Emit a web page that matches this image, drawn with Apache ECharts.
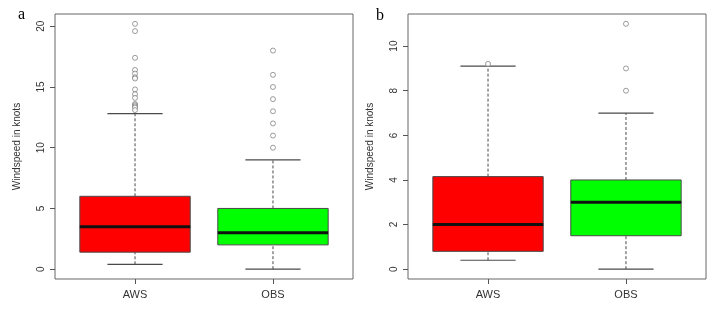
<!DOCTYPE html>
<html>
<head>
<meta charset="utf-8">
<script src="https://cdn.jsdelivr.net/npm/echarts@6/dist/echarts.min.js"></script>
<style>html,body{margin:0;padding:0;background:#fff;}#c{width:717px;height:309px;}</style>
</head>
<body>
<div id="c"></div>
<script>
// Categories
const categories = ['AWS', 'OBS'];
// Panel a: [lowWhisker, Q1, median, Q3, highWhisker]
const statsA = [[0.4, 1.4, 3.5, 6.0, 12.8], [0, 2, 3, 5, 9]];
const outliersAWS_A = [20.2, 19.6, 17.4, 16.4, 16.1, 15.8, 15.7, 14.8, 14.4, 14.1, 13.6, 13.5, 13.4, 13.3, 13.1];
const outliersOBS_A = [18, 16, 15, 14, 13, 12, 11, 10];
// Panel b
const statsB = [[0.4, 0.8, 2.0, 4.15, 9.1], [0, 1.5, 3, 4, 7]];
const outliersAWS_B = [9.2];
const outliersOBS_B = [11, 9, 8];
// Tick labels
const ticksA = [0, 5, 10, 15, 20];
const ticksB = [0, 2, 4, 6, 8, 10];
const yTitle = 'Windspeed in knots';
const boxColors = ['#ff0000', '#00ff00'];

const chart = echarts.init(document.getElementById('c'), null, {renderer: 'canvas'});

function boxRender(params, api) {
  const x = api.value(0);
  const lo = api.value(1), q1 = api.value(2), med = api.value(3), q3 = api.value(4), hi = api.value(5);
  const idx = api.value(6);
  const halfBox = api.size([0.4, 0])[0];
  const halfCap = api.size([0.2, 0])[0];
  const pLo = api.coord([x, lo]), pQ1 = api.coord([x, q1]), pMed = api.coord([x, med]);
  const pQ3 = api.coord([x, q3]), pHi = api.coord([x, hi]);
  const cx = pLo[0];
  const stroke = '#4a4a4a';
  return {
    type: 'group',
    children: [
      {type: 'line', shape: {x1: cx, y1: pQ3[1], x2: cx, y2: pHi[1]}, style: {stroke: stroke, lineWidth: 1, lineDash: [3, 2]}},
      {type: 'line', shape: {x1: cx, y1: pLo[1], x2: cx, y2: pQ1[1]}, style: {stroke: stroke, lineWidth: 1, lineDash: [3, 2]}},
      {type: 'line', shape: {x1: cx - halfCap, y1: pHi[1], x2: cx + halfCap, y2: pHi[1]}, style: {stroke: stroke, lineWidth: 1.2}},
      {type: 'line', shape: {x1: cx - halfCap, y1: pLo[1], x2: cx + halfCap, y2: pLo[1]}, style: {stroke: stroke, lineWidth: 1.2}},
      {type: 'rect', shape: {x: cx - halfBox, y: pQ3[1], width: 2 * halfBox, height: pQ1[1] - pQ3[1]}, style: {fill: boxColors[idx], stroke: stroke, lineWidth: 1}},
      {type: 'line', shape: {x1: cx - halfBox, y1: pMed[1], x2: cx + halfBox, y2: pMed[1]}, style: {stroke: '#111', lineWidth: 3}}
    ]
  };
}

function boxData(stats) {
  return stats.map((s, i) => [i + 1, s[0], s[1], s[2], s[3], s[4], i]);
}
function outData(xs, vals) { return vals.map(v => [xs, v]); }

function xAxisCfg(gi) {
  return {
    type: 'value', gridIndex: gi, min: 0.42, max: 2.58, position: 'bottom',
    splitLine: {show: false}, axisLine: {show: false, onZero: false},
    axisTick: {show: true, inside: false, length: 5, customValues: [1, 2], lineStyle: {color: '#555'}},
    axisLabel: {show: true, customValues: [1, 2], margin: 10, fontSize: 11, color: '#333', fontFamily: 'Liberation Sans',
      formatter: v => categories[Math.round(v) - 1] || ''}
  };
}
function yAxisCfg(gi, min, max, ticks) {
  return {
    type: 'value', gridIndex: gi, min: min, max: max, position: 'left',
    splitLine: {show: false}, axisLine: {show: false, onZero: false},
    axisTick: {show: true, inside: false, length: 5, customValues: ticks, lineStyle: {color: '#555'}},
    axisLabel: {show: true, customValues: ticks, rotate: 90, margin: 9, fontSize: 10, color: '#333', fontFamily: 'Liberation Sans'},
    name: yTitle, nameLocation: 'middle', nameRotate: 90, nameGap: 33,
    nameTextStyle: {fontSize: 10, color: '#333', fontFamily: 'Liberation Sans'}
  };
}

const outStyle = {symbol: 'circle', symbolSize: 5, itemStyle: {color: '#ffffff', borderColor: '#666', borderWidth: 0.8}};

chart.setOption({
  animation: false,
  backgroundColor: '#fff',
  grid: [
    {left: 55, top: 14, width: 298, height: 265, show: true, borderColor: '#666', borderWidth: 1, backgroundColor: 'transparent'},
    {left: 408, top: 14, width: 298, height: 265, show: true, borderColor: '#666', borderWidth: 1, backgroundColor: 'transparent'}
  ],
  xAxis: [xAxisCfg(0), xAxisCfg(1)],
  yAxis: [yAxisCfg(0, -0.81, 21.01, ticksA), yAxisCfg(1, -0.44, 11.44, ticksB)],
  graphic: [
    {type: 'text', left: 18, top: 7, style: {text: 'a', font: '16px "Liberation Serif"', fill: '#000'}},
    {type: 'text', left: 376, top: 8, style: {text: 'b', font: '16px "Liberation Serif"', fill: '#000'}}
  ],
  series: [
    {type: 'custom', xAxisIndex: 0, yAxisIndex: 0, renderItem: boxRender, data: boxData(statsA)},
    {type: 'custom', xAxisIndex: 1, yAxisIndex: 1, renderItem: boxRender, data: boxData(statsB)},
    Object.assign({type: 'scatter', xAxisIndex: 0, yAxisIndex: 0, data: outData(1, outliersAWS_A)}, outStyle),
    Object.assign({type: 'scatter', xAxisIndex: 0, yAxisIndex: 0, data: outData(2, outliersOBS_A)}, outStyle),
    Object.assign({type: 'scatter', xAxisIndex: 1, yAxisIndex: 1, data: outData(1, outliersAWS_B)}, outStyle),
    Object.assign({type: 'scatter', xAxisIndex: 1, yAxisIndex: 1, data: outData(2, outliersOBS_B)}, outStyle)
  ]
});
</script>
</body>
</html>
